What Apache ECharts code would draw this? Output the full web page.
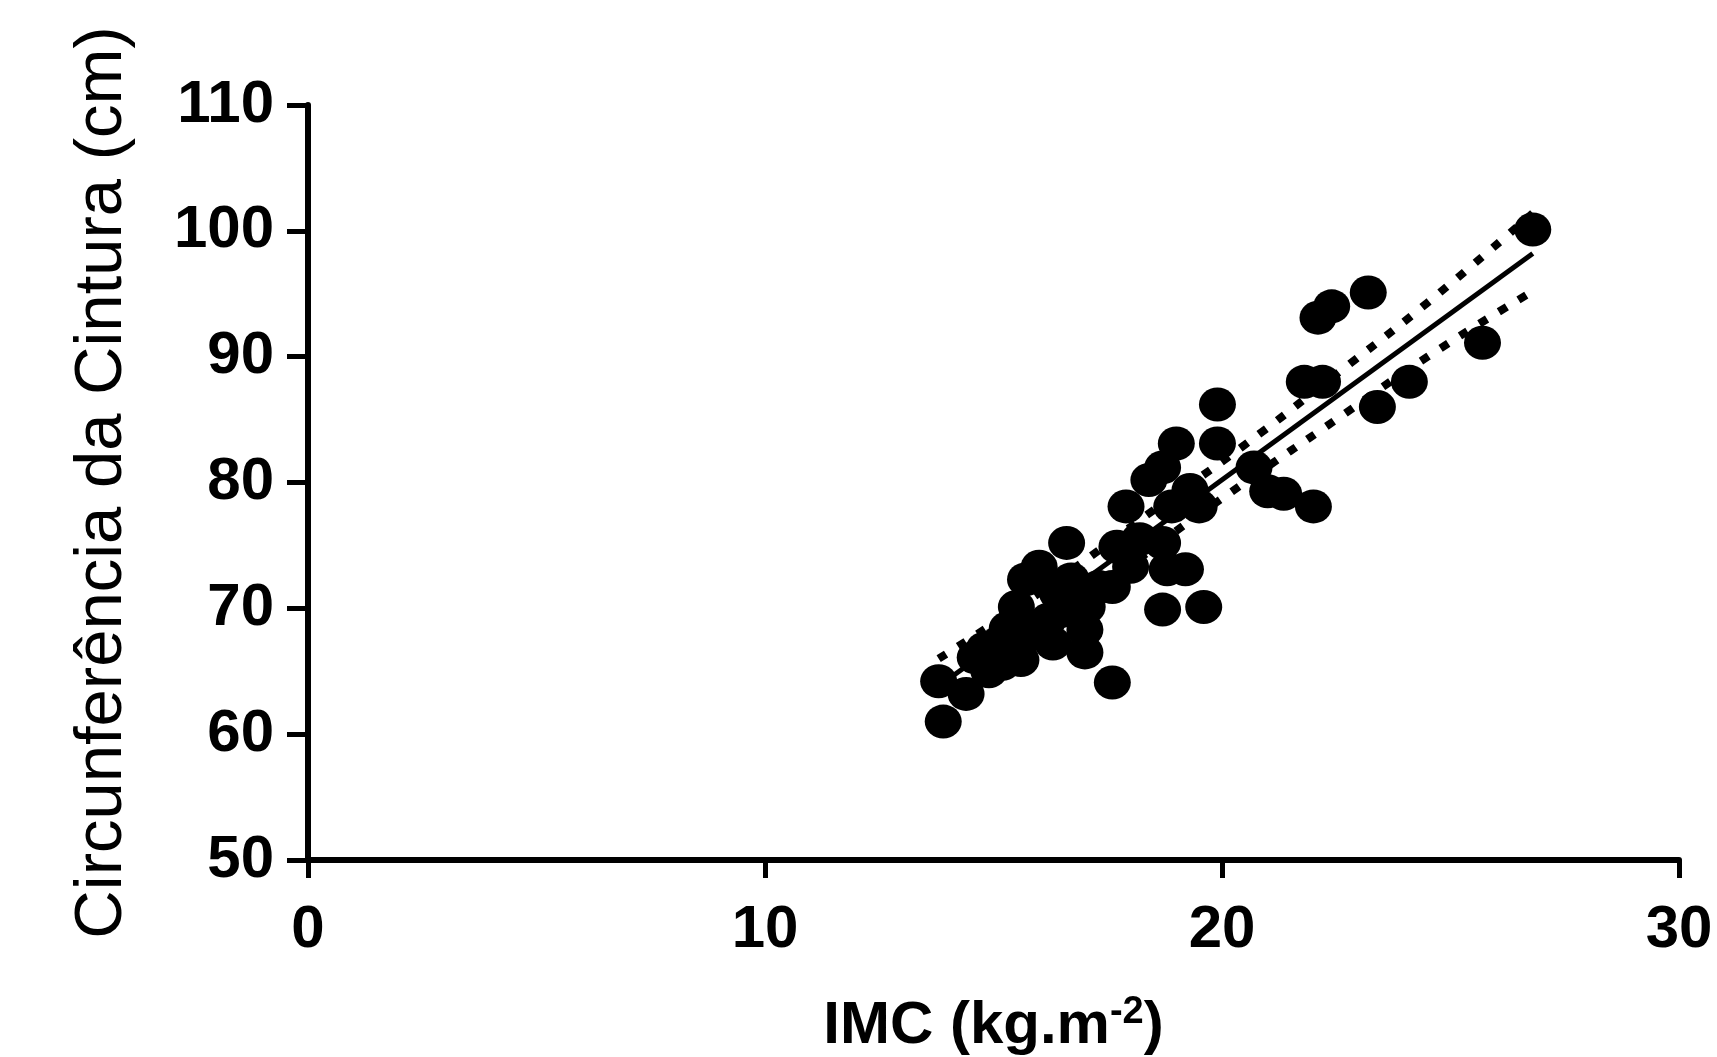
<!DOCTYPE html>
<html>
<head>
<meta charset="utf-8">
<script src="https://cdn.jsdelivr.net/npm/echarts@6/dist/echarts.min.js"></script>
<style>
html,body{margin:0;padding:0;background:#fff;}
#chart{width:1717px;height:1057px;}
</style>
</head>
<body>
<div id="chart"></div>
<script>
// Data (IMC kg/m², waist circumference cm)
var imc = [13.9, 13.8, 14.4, 14.6, 14.9, 15.2, 15.1, 15.6, 15.5, 15.4, 15.3, 15.7, 16.0, 15.9, 16.2, 16.3, 16.4, 16.5, 16.6, 16.7,
           17.0, 17.0, 17.05, 17.3, 17.6, 17.6, 17.7, 18.0, 18.2, 17.9, 18.4, 18.7, 18.9, 19.0, 19.3, 19.5, 18.7, 18.8, 19.2, 18.7,
           19.6, 19.9, 19.9, 20.7, 21.0, 21.35, 22.0, 21.8, 22.2, 22.1, 22.4, 23.2, 23.4, 24.1, 25.7, 26.8, 14.8, 15.0];
var cintura = [61.0, 64.2, 63.2, 66.1, 65.0, 65.6, 67.2, 65.9, 70.1, 67.5, 68.4, 72.3, 73.3, 68.0, 69.1, 67.2, 71.2, 69.8, 75.2, 72.3,
               66.5, 68.3, 70.1, 71.7, 64.1, 71.7, 74.9, 73.3, 75.5, 78.1, 80.2, 81.2, 78.1, 83.1, 79.4, 78.1, 75.2, 73.1, 73.1, 69.9,
               70.1, 83.1, 86.2, 81.2, 79.3, 79.1, 78.1, 88.0, 88.0, 93.1, 94.0, 95.1, 86.0, 88.0, 91.1, 100.1, 66.8, 66.2];

// Regression line (end points) and 95% confidence band
var fitX = [13.8, 26.8];
var fitY = [63.8, 98.2];
var bandX = [13.8, 15, 16.5, 18.5, 20.5, 22.5, 24.5, 26.8];
var bandUpper = [66.0, 68.8, 72.5, 77.8, 83.0, 88.6, 94.3, 101.4];
var bandLower = [61.6, 64.9, 69.1, 74.8, 80.0, 85.0, 90.0, 95.2];

var xTicks = [0, 10, 20, 30];
var yTicks = [50, 60, 70, 80, 90, 100, 110];
var xTitle = 'IMC (kg.m';
var xTitleSup = '-2';
var yTitle = 'Circunferência da Cintura (cm)';

function zip(a, b) { return a.map(function (v, i) { return [v, b[i]]; }); }

var FONT = '"Liberation Sans", Arial, Helvetica, sans-serif';
var chart = echarts.init(document.getElementById('chart'), null, {renderer: 'canvas'});
chart.setOption({
  backgroundColor: '#ffffff',
  animation: false,
  grid: {left: 308, right: 38, top: 105, bottom: 197, containLabel: false, outerBoundsMode: 'none'},
  xAxis: {
    type: 'value', min: xTicks[0], max: xTicks[xTicks.length - 1], interval: 10,
    axisLine: {lineStyle: {color: '#000', width: 6}},
    axisTick: {show: true, length: 18, lineStyle: {color: '#000', width: 5}},
    axisLabel: {color: '#000', fontFamily: FONT, fontWeight: 'bold', fontSize: 60, margin: 40},
    splitLine: {show: false},
    name: '{a|' + xTitle + '}{s|' + xTitleSup + '}{a|)}',
    nameLocation: 'middle', nameGap: 134,
    nameTextStyle: {
      rich: {
        a: {fontFamily: FONT, fontWeight: 'bold', fontSize: 60, color: '#000'},
        s: {fontFamily: FONT, fontWeight: 'bold', fontSize: 38, color: '#000', verticalAlign: 'bottom', padding: [0, 0, 26, 0]}
      }
    }
  },
  yAxis: {
    type: 'value', min: yTicks[0], max: yTicks[yTicks.length - 1], interval: 10,
    axisLine: {lineStyle: {color: '#000', width: 6}},
    axisTick: {show: true, length: 21, lineStyle: {color: '#000', width: 5}},
    axisLabel: {color: '#000', fontFamily: FONT, fontWeight: 'bold', fontSize: 60, margin: 34},
    splitLine: {show: false},
    name: yTitle, nameLocation: 'middle', nameRotate: 90, nameGap: 172,
    nameTextStyle: {color: '#000', fontFamily: FONT, fontSize: 67}
  },
  series: [
    {
      type: 'scatter', data: zip(imc, cintura), symbol: 'circle', symbolSize: [37, 34],
      itemStyle: {color: '#000', opacity: 1}, z: 2
    },
    {
      type: 'line', data: zip(fitX, fitY), symbol: 'none', z: 3,
      lineStyle: {color: '#000', width: 5}
    },
    {
      type: 'line', data: zip(bandX, bandUpper), symbol: 'none', smooth: true, z: 3,
      lineStyle: {color: '#000', width: 8, type: [9, 14]}
    },
    {
      type: 'line', data: zip(bandX, bandLower), symbol: 'none', smooth: true, z: 3,
      lineStyle: {color: '#000', width: 8, type: [9, 14]}
    }
  ]
});
</script>
</body>
</html>
